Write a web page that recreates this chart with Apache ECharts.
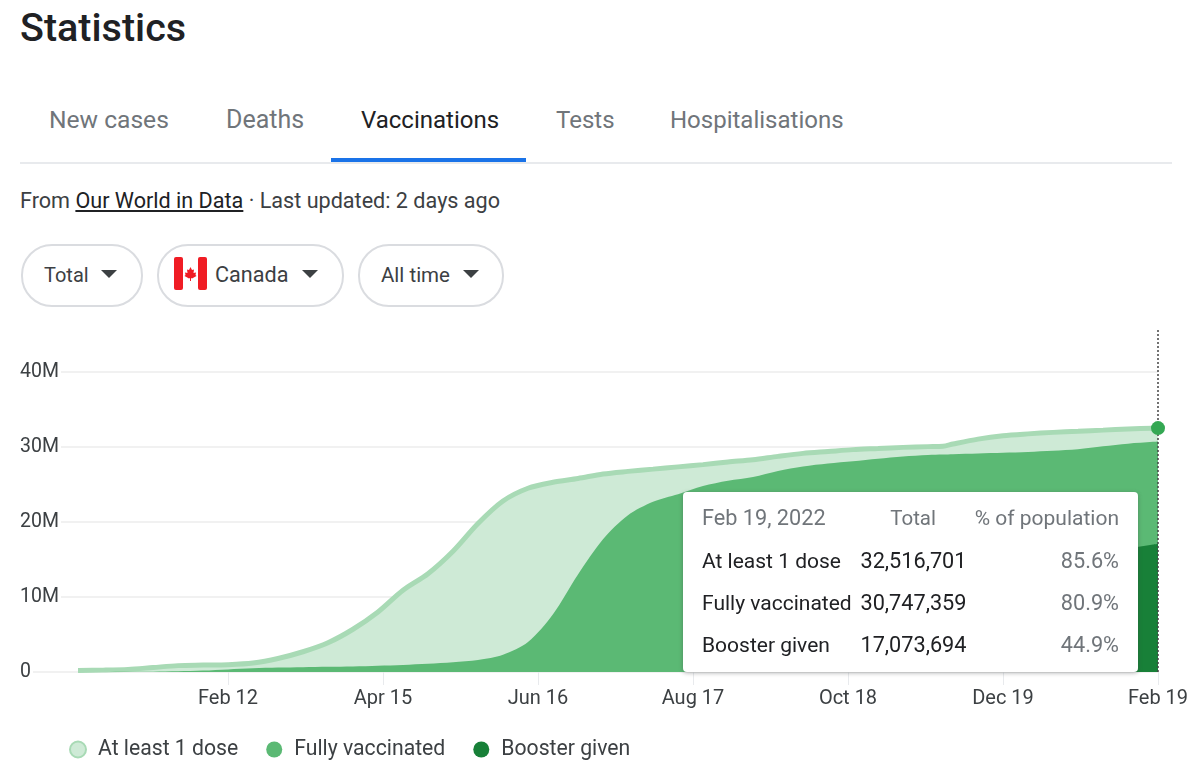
<!DOCTYPE html>
<html><head><meta charset="utf-8">
<script src="https://cdn.jsdelivr.net/npm/echarts@6/dist/echarts.min.js"></script>
<style>
html,body{margin:0;padding:0;background:#fff;width:1200px;height:776px;overflow:hidden;font-family:Roboto,Arial,sans-serif}
.a{position:absolute;white-space:nowrap}
#chart{position:absolute;left:0;top:320px;width:1200px;height:456px}
.tab{font-size:24px;color:#70757a;top:105px;line-height:30px}
.pill{top:244px;height:59px;border:2px solid #dadce0;border-radius:31px;box-sizing:content-box}
.pt{top:262px;font-size:21px;line-height:26px;color:#3c4043}
.tri{width:0;height:0;border-left:8px solid transparent;border-right:8px solid transparent;border-top:8px solid #3c4043;top:270px}
.tt{font-family:Roboto,Arial,sans-serif;font-size:21px;line-height:26px;position:relative;width:455px;height:180px}
.tt span{position:absolute;white-space:nowrap}
</style></head>
<body>
<div class="a" style="left:20px;top:4px;font-size:39.5px;line-height:48px;font-weight:500;color:#202124">Statistics</div>
<div class="a tab" style="left:49px;font-size:24.6px">New cases</div>
<div class="a tab" style="left:226px;font-size:25px">Deaths</div>
<div class="a tab" style="left:361px;color:#202124">Vaccinations</div>
<div class="a tab" style="left:556px">Tests</div>
<div class="a tab" style="left:670px">Hospitalisations</div>
<div class="a" style="left:20px;top:162px;width:1152px;height:2px;background:#e8eaed"></div>
<div class="a" style="left:331px;top:158px;width:195px;height:4px;background:#1a73e8"></div>
<div class="a" style="left:20px;top:188px;font-size:21.6px;line-height:26px;color:#3c4043">From <span style="text-decoration:underline;color:#202124">Our World in Data</span> · Last updated: 2 days ago</div>
<div class="a pill" style="left:21px;width:118px"></div>
<div class="a pill" style="left:157px;width:183px"></div>
<div class="a pill" style="left:358px;width:142px"></div>
<div class="a pt" style="left:44px;font-size:20px">Total</div>
<div class="a tri" style="left:101px"></div>
<svg class="a" style="left:174px;top:257px" width="33" height="33" viewBox="0 0 33 33"><rect width="33" height="33" rx="2" fill="#fff"/><rect x="0" width="9" height="33" rx="2" fill="#f01c24"/><rect x="24" width="9" height="33" rx="2" fill="#f01c24"/><polygon points="16.5,10 18,13 20,12.5 19.5,16 22,15.5 21.5,18 22.5,19 18,21.5 17,21 17,24 16,24 16,21 15,21.5 10.5,19 11.5,18 11,15.5 13.5,16 13,12.5 15,13" fill="#f01c24"/></svg>
<div class="a pt" style="left:215px;font-size:21.6px">Canada</div>
<div class="a tri" style="left:302px"></div>
<div class="a pt" style="left:381px;font-size:20.5px">All time</div>
<div class="a tri" style="left:463px"></div>
<div id="chart"></div>
<script>
const dates = ["2020-12-14","2020-12-24","2021-01-03","2021-01-13","2021-01-23","2021-02-02","2021-02-12","2021-02-22","2021-03-04","2021-03-14","2021-03-24","2021-04-03","2021-04-13","2021-04-23","2021-05-03","2021-05-13","2021-05-23","2021-06-02","2021-06-12","2021-06-22","2021-07-02","2021-07-12","2021-07-22","2021-08-01","2021-08-11","2021-08-21","2021-08-31","2021-09-10","2021-09-20","2021-09-30","2021-10-10","2021-10-20","2021-10-30","2021-11-09","2021-11-19","2021-11-25","2021-11-29","2021-12-09","2021-12-19","2021-12-29","2022-01-08","2022-01-18","2022-01-28","2022-02-07","2022-02-17","2022-02-19"];
const atLeastOne = [0.2,0.25,0.35,0.6,0.85,0.92,0.98,1.2,1.8,2.7,3.9,5.7,8.0,10.9,13.1,16.1,19.8,22.8,24.5,25.3,25.8,26.4,26.75,27.05,27.35,27.65,28.0,28.3,28.75,29.15,29.4,29.65,29.8,29.95,30.05,30.1,30.4,31.05,31.5,31.75,31.95,32.1,32.25,32.4,32.5,32.517];
const fully = [0,0,0.02,0.05,0.1,0.2,0.35,0.5,0.6,0.65,0.7,0.75,0.85,0.95,1.1,1.3,1.6,2.3,4.0,7.7,13,17.7,20.9,22.7,23.7,24.8,25.5,26,26.8,27.4,27.8,28.1,28.45,28.75,28.95,29.0,29.05,29.15,29.25,29.35,29.5,29.7,30.1,30.45,30.7,30.747];
const booster = [0,0,0,0,0,0,0,0,0,0,0,0,0,0,0,0,0,0,0,0,0,0,0,0,0,0,0,0,0.05,0.1,0.2,0.4,0.6,0.8,1.2,1.5,1.8,2.5,3.5,5.5,9,12.5,15,16.4,17.0,17.074];
const xTicks = ["2021-02-12","2021-04-15","2021-06-16","2021-08-17","2021-10-18","2021-12-19","2022-02-19"];
const yTicks = [0,10,20,30,40];
const names = ["At least 1 dose","Fully vaccinated","Booster given"];
const tipRows = [["At least 1 dose","32,516,701","85.6%"],["Fully vaccinated","30,747,359","80.9%"],["Booster given","17,073,694","44.9%"]];
const tipHead = ["Feb 19, 2022","Total","% of population"];

const DAY = 86400000, T = s => new Date(s + "T00:00:00Z").getTime();
const D0 = T(dates[0]);
const dayOf = s => Math.round((T(s) - D0) / DAY);
const pairs = a => a.map((v,i) => [dayOf(dates[i]), v]);
const last = dates.length - 1;
const lastDay = dayOf(dates[last]);
const textCol = "#3c4043";
const chart = echarts.init(document.getElementById("chart"), null, {renderer:"canvas"});
const tipHtml = () => {
  const ys = [13,56,98,140];
  const n = 'font-size:21.7px;';
  let h = '<div class="tt">';
  h += `<span style="left:19px;top:${ys[0]}px;color:#70757a;${n}">${tipHead[0]}</span>`;
  h += `<span style="right:202px;top:${ys[0]}px;color:#70757a;font-size:20.5px">${tipHead[1]}</span>`;
  h += `<span style="right:19px;top:${ys[0]}px;color:#70757a">${tipHead[2]}</span>`;
  tipRows.forEach((r,i) => {
    h += `<span style="left:19px;top:${ys[i+1]}px;color:#202124">${r[0]}</span>`;
    h += `<span style="right:171.5px;top:${ys[i+1]}px;color:#202124;${n}">${r[1]}</span>`;
    h += `<span style="right:19px;top:${ys[i+1]}px;color:#70757a;${n}">${r[2]}</span>`;
  });
  return h + '</div>';
};
const smoothOpts = {smooth:0.3};
chart.setOption({
  animation:false,
  backgroundColor:"#fff",
  textStyle:{fontFamily:"Roboto"},
  grid:{left:20,right:42,top:10,bottom:104},
  legend:{
    left:69,top:419,padding:0,itemWidth:16,itemHeight:16,itemGap:28,icon:"circle",
    selectedMode:false,
    textStyle:{fontSize:21.2,color:textCol,fontFamily:"Roboto",padding:[0,0,0,7]},
    data:[
      {name:names[0],itemStyle:{color:"#ceead6",borderColor:"#a8dab5",borderWidth:2}},
      {name:names[1],itemStyle:{color:"#5bb974"}},
      {name:names[2],itemStyle:{color:"#188038"}}
    ]
  },
  tooltip:{
    trigger:"item",triggerOn:"none",alwaysShowContent:true,transitionDuration:0,
    position:[683,172],padding:0,borderWidth:0,borderRadius:4,backgroundColor:"#fff",
    extraCssText:"box-shadow:0 1px 4px rgba(60,64,67,.4);",
    formatter:tipHtml
  },
  xAxis:{
    type:"value",
    min:lastDay - 455.2,
    max:lastDay,
    axisLine:{show:false},
    splitLine:{show:false},
    axisTick:{show:true,length:13,lineStyle:{color:"#e8eaed",width:1},customValues:xTicks.map(dayOf)},
    axisLabel:{
      customValues:xTicks.map(dayOf),margin:17,fontSize:20,color:textCol,fontFamily:"Roboto",hideOverlap:false,
      alignMinLabel:"center",alignMaxLabel:"center",showMinLabel:true,showMaxLabel:true,
      formatter:v => new Date(D0 + v*DAY).toLocaleDateString("en-US",{month:"short",day:"numeric",timeZone:"UTC"})
    }
  },
  yAxis:{
    type:"value",min:0,max:45.6,
    axisLine:{show:false},
    axisTick:{show:false,customValues:yTicks},
    splitLine:{show:true,lineStyle:{color:"#f1f1f1",width:2}},
    axisLabel:{
      customValues:yTicks,inside:true,align:"left",margin:0,color:textCol,fontFamily:"Roboto",fontSize:19.5,
      backgroundColor:"#fff",padding:[0,2,0,0],
      rich:{a:{fontSize:19.5,fontFamily:"Roboto",color:textCol,height:24,lineHeight:24,verticalAlign:"bottom"}},
      formatter:v => "{a|" + (v === 0 ? "0" : v + "M") + "}"
    }
  },
  series:[
    {name:names[0],type:"line",...smoothOpts,showSymbol:false,symbol:"none",data:pairs(atLeastOne),
     lineStyle:{color:"#a8dab5",width:5},itemStyle:{color:"#ceead6"},areaStyle:{color:"#ceead6",opacity:1},z:2,silent:true,
     markLine:{silent:true,symbol:"none",label:{show:false},animation:false,
       lineStyle:{color:"#444",type:[2,2],width:1.5},data:[{xAxis:lastDay}],z:6}},
    {name:names[1],type:"line",...smoothOpts,showSymbol:false,symbol:"none",data:pairs(fully),
     lineStyle:{width:0},itemStyle:{color:"#5bb974"},areaStyle:{color:"#5bb974",opacity:1},z:3,silent:true},
    {name:names[2],type:"line",...smoothOpts,showSymbol:false,symbol:"none",data:pairs(booster),
     lineStyle:{width:0},itemStyle:{color:"#188038"},areaStyle:{color:"#188038",opacity:1},z:4,silent:true},
    {name:"current",type:"scatter",symbolSize:14,clip:false,data:[[lastDay,atLeastOne[last]]],
     itemStyle:{color:"#34a853",opacity:1},z:10,silent:true}
  ]
});
chart.dispatchAction({type:"showTip",seriesIndex:3,dataIndex:0});
</script>
</body></html>
